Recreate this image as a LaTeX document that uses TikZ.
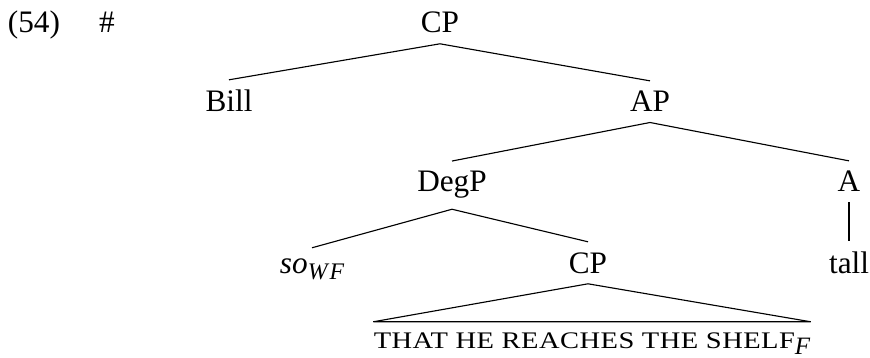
\documentclass[tikz,border=0pt]{standalone}
\usepackage{fontspec}
\setmainfont{Liberation Serif}
\newfontfamily\capsfont[FakeStretch=1.2,LetterSpace=2]{Liberation Serif}

\begin{document}
\begin{tikzpicture}[x=0.4pt,y=-0.4pt,
  lab/.style={anchor=base,inner sep=4pt,font=\fontsize{12.5}{14}\selectfont},
  roof/.style={anchor=base,inner ysep=4pt,inner xsep=0pt,font=\capsfont\fontsize{9.5}{11}\selectfont},
  edge/.style={line width=0.45pt}]

\useasboundingbox (0,0) rectangle (870,358);

\node[lab] (num) at (34,33) {(54)};
\node[lab] (hash) at (107,33) {\#};

% tree, row by row
\node[lab] (cp) at (440,33) {CP};
\node[lab] (bill) at (229,112) {Bill};
\node[lab] (ap) at (650,112) {AP};
\node[lab] (degp) at (452,192) {DegP};
\node[lab] (a) at (849,192) {A};
\node[lab] (so) at (312,273) {\textit{so}\raisebox{-2.5pt}{\fontsize{9.5}{10}\selectfont\itshape W\kern.8pt F}};
\node[lab] (cpb) at (588,273) {CP};
\node[lab] (tall) at (849,273) {tall};
\node[roof] (shelf) at (592,348) {THAT HE REACHES THE SHELF\raisebox{-2.5pt}{\fontsize{10}{11}\selectfont\normalfont\itshape F}};

\draw[edge] (bill.north)--(cp.south)--(ap.north);
\draw[edge] (degp.north)--(ap.south)--(a.north);
\draw[edge] (so.north)--(degp.south)--(cpb.north);
\draw[edge] (a.south)--(tall.north);
\draw[edge] (cpb.south)--(shelf.north west)--(shelf.north east)--cycle;

\end{tikzpicture}
\end{document}
